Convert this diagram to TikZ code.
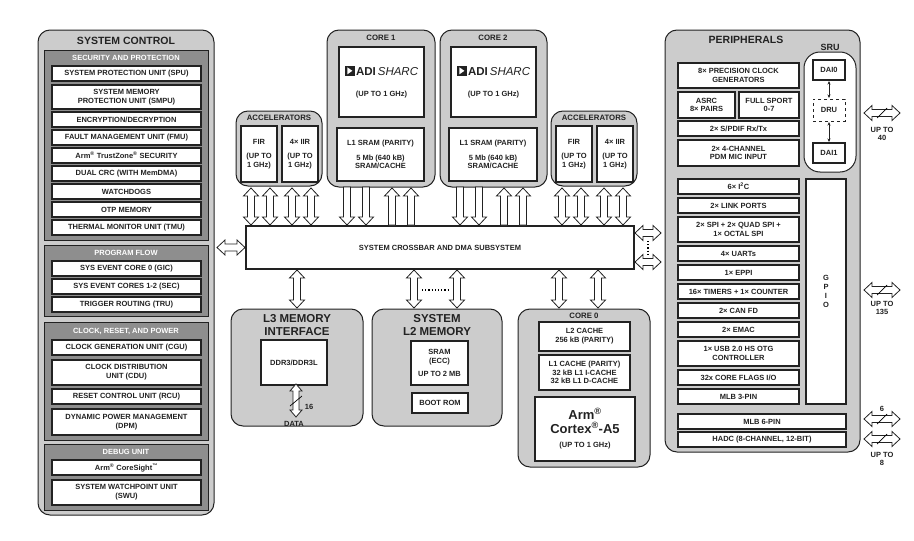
\documentclass[tikz,border=0pt]{standalone}
\usepackage{fontspec}
\setmainfont{Liberation Sans}
\usetikzlibrary{arrows.meta,calc}
\definecolor{outerg}{HTML}{CCCCCC}
\definecolor{panelg}{HTML}{8E8E8E}
\definecolor{ink}{HTML}{222222}
\newcommand\wbx[7][]{\node[box,#1,minimum width={(#5-#3)*1pt},minimum height={(#6-#4)*1pt}] (#2) at ({(#3+#5)/2},{(#4+#6)/2}) {#7};}
\newcommand\rbox[7][]{\node[rbx,#1,minimum width={(#5-#3)*1pt},minimum height={(#6-#4)*1pt}] (#2) at ({(#3+#5)/2},{(#4+#6)/2}) {#7};}
\newcommand\pbox[5]{\node[pnl,minimum width={(#4-#2)*1pt},minimum height={(#5-#3)*1pt}] (#1) at ({(#2+#4)/2},{(#3+#5)/2}) {};}
\begin{document}
\begin{tikzpicture}[x=1pt,y=-1pt,
  every node/.style={inner sep=0pt,outer sep=0pt,text=ink},
  box/.style={draw=ink,line width=1.4pt,fill=white,align=center,font=\bfseries\fontsize{7.5}{8.8}\selectfont},
  rbx/.style={draw=ink,line width=1pt,fill=outerg,rounded corners=12pt},
  pnl/.style={draw=ink,line width=1pt,fill=panelg},
  ttl/.style={font=\bfseries\fontsize{7.8}{9}\selectfont,align=center},
  wttl/.style={font=\bfseries\fontsize{7.5}{8}\selectfont,text=white},
  big/.style={font=\bfseries\fontsize{11.5}{12.5}\selectfont,align=center},
  hw/.store in=\hw, hw=7.5pt, sw/.store in=\sw, sw=3.5pt, hl/.store in=\hl, hl=8pt,
  dar/.style={draw=ink,line width=0.8pt,fill=white,line join=miter,
    to path={let \p1=($(\tikztostart)!\hl!(\tikztotarget)$), \p2=($(\tikztotarget)!\hl!(\tikztostart)$) in
    (\tikztostart) -- ($(\p1)!\hw!90:(\tikztotarget)$) -- ($(\p1)!\sw!90:(\tikztotarget)$)
    -- ($(\p2)!\sw!-90:(\tikztostart)$) -- ($(\p2)!\hw!-90:(\tikztostart)$) -- (\tikztotarget)
    -- ($(\p2)!\hw!90:(\tikztostart)$) -- ($(\p2)!\sw!90:(\tikztostart)$)
    -- ($(\p1)!\sw!-90:(\tikztotarget)$) -- ($(\p1)!\hw!-90:(\tikztotarget)$) -- cycle}},
  sar/.style={draw=ink,line width=0.8pt,fill=white,line join=miter,
    to path={let \p2=($(\tikztotarget)!\hl!(\tikztostart)$) in
    ($(\tikztostart)!\sw!90:(\tikztotarget)$)
    -- ($(\p2)!\sw!-90:(\tikztostart)$) -- ($(\p2)!\hw!-90:(\tikztostart)$) -- (\tikztotarget)
    -- ($(\p2)!\hw!90:(\tikztostart)$) -- ($(\p2)!\sw!90:(\tikztostart)$)
    -- ($(\tikztostart)!\sw!-90:(\tikztotarget)$) -- cycle}},
  tiny/.style={draw=ink,line width=0.6pt,{Stealth[length=3.5pt,width=3pt]}-{Stealth[length=3.5pt,width=3pt]}},
  lbl/.style={font=\bfseries\fontsize{7.5}{8.5}\selectfont,align=center}]
\useasboundingbox (0,0) rectangle (914,541);
% ---------- SYSTEM CONTROL ----------
\rbox{sysc}{38}{30}{214}{515}{}
\node[big,font=\bfseries\fontsize{10.5}{11}\selectfont] (sysct) at (126,41) {SYSTEM CONTROL};
\pbox{secp}{44}{50}{208}{240}
\node[wttl] (sect) at (126,58) {SECURITY AND PROTECTION};
\wbx{spu}{52}{66}{201}{81}{SYSTEM PROTECTION UNIT (SPU)}
\wbx{smpu}{52}{85}{201}{109}{SYSTEM MEMORY\\PROTECTION UNIT (SMPU)}
\wbx{enc}{52}{112}{201}{127}{ENCRYPTION/DECRYPTION}
\wbx{fmu}{52}{130}{201}{145}{FAULT MANAGEMENT UNIT (FMU)}
\wbx{tz}{52}{148}{201}{163}{Arm\textsuperscript{®} TrustZone\textsuperscript{®} SECURITY}
\wbx{crc}{52}{166}{201}{181}{DUAL CRC (WITH MemDMA)}
\wbx{wd}{52}{184}{201}{199}{WATCHDOGS}
\wbx{otp}{52}{202}{201}{217}{OTP MEMORY}
\wbx{tmu}{52}{220}{201}{235}{THERMAL MONITOR UNIT (TMU)}
\pbox{pfp}{44}{245}{208}{316}
\node[wttl] (pft) at (126,253) {PROGRAM FLOW};
\wbx{gic}{52}{261}{201}{276}{SYS EVENT CORE 0 (GIC)}
\wbx{sec}{52}{279}{201}{294}{SYS EVENT CORES 1-2 (SEC)}
\wbx{tru}{52}{297}{201}{312}{TRIGGER ROUTING (TRU)}
\pbox{crp}{44}{322}{208}{440}
\node[wttl] (crt) at (126,331) {CLOCK, RESET, AND POWER};
\wbx{cgu}{52}{340}{201}{355}{CLOCK GENERATION UNIT (CGU)}
\wbx{cdu}{52}{360}{201}{385}{CLOCK DISTRIBUTION\\UNIT (CDU)}
\wbx{rcu}{52}{389}{201}{404}{RESET CONTROL UNIT (RCU)}
\wbx{dpm}{52}{409}{201}{435}{DYNAMIC POWER MANAGEMENT\\(DPM)}
\pbox{dbp}{44}{444}{208}{510}
\node[wttl] (dbt) at (126,452) {DEBUG UNIT};
\wbx{cs}{52}{460}{201}{475}{Arm\textsuperscript{®} CoreSight\textsuperscript{™}}
\wbx{swu}{52}{480}{201}{505}{SYSTEM WATCHPOINT UNIT\\(SWU)}
% ---------- CROSSBAR ----------
\wbx{xbar}{246}{226}{634}{269}{SYSTEM CROSSBAR AND DMA SUBSYSTEM}
\draw[dar] ([xshift=3pt]sysc.east |- xbar.west) to ([xshift=-1pt]xbar.west);
\coordinate (rt1) at (661,233);
\coordinate (rt2) at (661,262);
\draw[dar] ([xshift=1pt]xbar.east |- rt1) to (rt1);
\draw[dar] ([xshift=1pt]xbar.east |- rt2) to (rt2);
\draw[dotted,line width=1.2pt] (648,241) -- (648,255);
% ---------- ACCELERATORS ----------
\rbox{acc1}{236}{111}{322}{186}{}
\node[ttl] (acc1t) at (279,118) {ACCELERATORS};
\wbx{fir1}{241}{126}{277}{182}{FIR\\[6pt](UP TO\\1 GHz)}
\wbx{iir1}{282}{126}{318}{182}{4× IIR\\[6pt](UP TO\\1 GHz)}
\rbox{acc2}{551}{111}{637}{186}{}
\node[ttl] (acc2t) at (594,118) {ACCELERATORS};
\wbx{fir2}{556}{126}{592}{182}{FIR\\[6pt](UP TO\\1 GHz)}
\wbx{iir2}{597}{126}{633}{182}{4× IIR\\[6pt](UP TO\\1 GHz)}
% ---------- CORES ----------
\rbox{core1}{327}{30}{435}{187}{}
\node[ttl] (c1t) at (381,38) {CORE 1};
\wbx{sh1}{339}{47}{424}{117}{\tikz{\fill (0,0) rectangle (10pt,10pt);\fill[white] (2.5pt,1.5pt)--(7.5pt,5pt)--(2.5pt,8.5pt)--cycle;}\,{\fontsize{11.5}{11.5}\selectfont ADI\,\textit{\mdseries SHARC}}\\[12pt](UP TO 1 GHz)}
\wbx{l1a}{337}{128}{424}{181}{L1 SRAM (PARITY)\\[6pt]5 Mb (640 kB)\\SRAM/CACHE}
\rbox{core2}{440}{30}{547}{187}{}
\node[ttl] (c2t) at (493,38) {CORE 2};
\wbx{sh2}{451}{47}{536}{117}{\tikz{\fill (0,0) rectangle (10pt,10pt);\fill[white] (2.5pt,1.5pt)--(7.5pt,5pt)--(2.5pt,8.5pt)--cycle;}\,{\fontsize{11.5}{11.5}\selectfont ADI\,\textit{\mdseries SHARC}}\\[12pt](UP TO 1 GHz)}
\wbx{l1b}{449}{128}{537}{181}{L1 SRAM (PARITY)\\[6pt]5 Mb (640 kB)\\SRAM/CACHE}
% top arrows
\foreach \dx in {15,34,56,75} \draw[dar] ([xshift=\dx,yshift=-2pt]acc1.south west) to ([xshift=\dx,yshift=1pt]acc1.south west |- xbar.north);
\foreach \dx in {11,30,53,72} \draw[dar] ([xshift=\dx,yshift=-2pt]acc2.south west) to ([xshift=\dx,yshift=1pt]acc2.south west |- xbar.north);
\foreach \dx in {20,39} \draw[sar] ([xshift=\dx]core1.south west) to ([xshift=\dx,yshift=1pt]core1.south west |- xbar.north);
\foreach \dx in {65,84} \draw[sar] ([xshift=\dx,yshift=1pt]core1.south west |- xbar.north) to ([xshift=\dx,yshift=-1pt]core1.south west);
\foreach \dx in {20,39} \draw[sar] ([xshift=\dx]core2.south west) to ([xshift=\dx,yshift=1pt]core2.south west |- xbar.north);
\foreach \dx in {64,83} \draw[sar] ([xshift=\dx,yshift=1pt]core2.south west |- xbar.north) to ([xshift=\dx,yshift=-1pt]core2.south west);
% ---------- L3 ----------
\rbox{l3}{231}{309}{363}{426}{}
\node[big] (l3t) at (297,325) {L3 MEMORY\\INTERFACE};
\wbx{ddr}{261}{340}{327}{385}{DDR3/DDR3L}
\coordinate (data) at (296,417);
\draw[dar,hw=6pt,sw=3pt,hl=7pt] ([yshift=1pt]ddr.south -| data) to (data);
\draw[line width=0.7pt] (290,406) -- (302,396);
\node[lbl] (n16) at (309,407) {16};
\node[lbl] (datal) at (294,424) {DATA};
% ---------- L2 ----------
\rbox{l2}{372}{309}{502}{426}{}
\node[big] (l2t) at (437,325) {SYSTEM\\L2 MEMORY};
\wbx{sram}{411}{341}{468}{385}{SRAM\\(ECC)\\[5pt]UP TO 2 MB}
\wbx{brom}{412}{393}{468}{413}{BOOT ROM}
% ---------- CORE 0 ----------
\rbox{core0}{518}{309}{650}{467}{}
\node[ttl] (c0t) at (584,316) {CORE 0};
\wbx{l2c}{539}{322}{630}{351}{L2 CACHE\\256 kB (PARITY)}
\wbx{l1c}{539}{355}{630}{390}{L1 CACHE (PARITY)\\32 kB L1 I-CACHE\\32 kB L1 D-CACHE}
\wbx{arm}{535}{397}{635}{461}{{\fontsize{13}{13}\selectfont Arm\textsuperscript{®}}\\[2pt]{\fontsize{13}{13}\selectfont Cortex\textsuperscript{®}-A5}\\[6pt](UP TO 1 GHz)}
% bottom arrows
\draw[dar] ([yshift=-1pt]xbar.south -| l3) to ([yshift=1pt]l3.north);
\draw[dar] ([xshift=-23,yshift=-1pt]l2.north |- xbar.south) to ([xshift=-23,yshift=1pt]l2.north);
\draw[dar] ([xshift=20,yshift=-1pt]l2.north |- xbar.south) to ([xshift=20,yshift=1pt]l2.north);
\draw[dotted,line width=1.2pt] (422,290) -- (449,290);
\draw[dar] ([xshift=-25,yshift=-1pt]core0.north |- xbar.south) to ([xshift=-25,yshift=1pt]core0.north);
\draw[dar] ([xshift=14,yshift=-1pt]core0.north |- xbar.south) to ([xshift=14,yshift=1pt]core0.north);
% ---------- PERIPHERALS ----------
\rbox{per}{665}{30}{860}{452}{}
\node[big,font=\bfseries\fontsize{10.5}{11}\selectfont] (pert) at (746,40) {PERIPHERALS};
\node[draw=ink,line width=1pt,fill=white,rounded corners=16pt,minimum width=52pt,minimum height=120pt] (sru) at (830,112) {};
\node[ttl,font=\bfseries\fontsize{9}{10}\selectfont] (srut) at (830,47) {SRU};
\wbx{dai0}{813}{60}{845}{80}{DAI0}
\wbx[dashed,line width=1pt]{dru}{813}{99}{845}{121}{DRU}
\wbx{dai1}{813}{143}{845}{163}{DAI1}
\draw[tiny] ([yshift=-1pt]dai0.south) -- ([yshift=1pt]dru.north);
\draw[tiny] ([yshift=-1pt]dru.south) -- ([yshift=1pt]dai1.north);
\wbx{pcg}{678}{63}{799}{88}{8× PRECISION CLOCK\\GENERATORS}
\wbx{asrc}{678}{92}{735}{118}{ASRC\\8× PAIRS}
\wbx{sport}{739}{92}{799}{118}{FULL SPORT\\0-7}
\wbx{spdif}{678}{121}{799}{136}{2× S/PDIF Rx/Tx}
\wbx{pdm}{678}{140}{799}{166}{2× 4-CHANNEL\\PDM MIC INPUT}
\wbx{i2c}{678}{179}{799}{194}{6× I\textsuperscript{2}C}
\wbx{link}{678}{198}{799}{213}{2× LINK PORTS}
\wbx{spi}{678}{217}{799}{242}{2× SPI + 2× QUAD SPI +\\1× OCTAL SPI}
\wbx{uart}{678}{246}{799}{261}{4× UARTs}
\wbx{eppi}{678}{265}{799}{280}{1× EPPI}
\wbx{tim}{678}{284}{799}{299}{16× TIMERS + 1× COUNTER}
\wbx{can}{678}{303}{799}{318}{2× CAN FD}
\wbx{emac}{678}{322}{799}{337}{2× EMAC}
\wbx{usb}{678}{341}{799}{366}{1× USB 2.0 HS OTG\\CONTROLLER}
\wbx{flags}{678}{370}{799}{385}{32x CORE FLAGS I/O}
\wbx{mlb3}{678}{389}{799}{404}{MLB 3-PIN}
\wbx{gpio}{806}{179}{846}{404}{G\\P\\I\\O}
\wbx{mlb6}{678}{414}{846}{429}{MLB 6-PIN}
\wbx{hadc}{678}{432}{846}{447}{HADC (8-CHANNEL, 12-BIT)}
% external arrows
\coordinate (e1) at (900,113);
\coordinate (e2) at (900,290);
\coordinate (e3) at (900,419);
\coordinate (e4) at (900,439);
\foreach \e in {e1,e2,e3,e4} {
  \draw[dar] ([xshift=4pt]per.east |- \e) to (\e);
  \draw[line width=0.7pt] ($(\e)+(-23,5)$) -- ($(\e)+(-13,-5)$);
}
\node[lbl] (u40) at (882,134) {UP TO\\40};
\node[lbl] (u135) at (882,308) {UP TO\\135};
\node[lbl] (n6) at (882,409) {6};
\node[lbl] (u8) at (882,459) {UP TO\\8};
\end{tikzpicture}
\end{document}
